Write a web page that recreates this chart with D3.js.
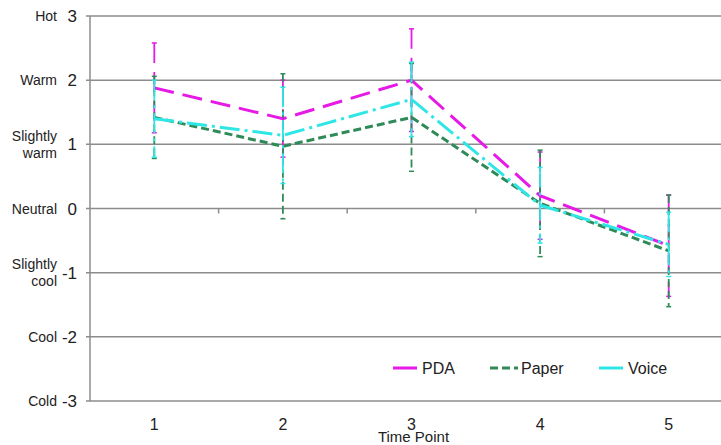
<!DOCTYPE html>
<html>
<head>
<meta charset="utf-8">
<script src="https://cdn.jsdelivr.net/npm/d3@7"></script>
<style>
  body { margin: 0; background: #fff; }
  svg { font-family: "Liberation Sans", Arial, sans-serif; }
</style>
</head>
<body>
<div id="chart"></div>
<script>
// time points and y tick labels
var timePoints = [1, 2, 3, 4, 5];
var yTicks = [3, 2, 1, 0, -1, -2, -3];
var yWords = [["Hot"], ["Warm"], ["Slightly", "warm"], ["Neutral"], ["Slightly", "cool"], ["Cool"], ["Cold"]];

// series means and error half-widths
var pdaMean = [1.88, 1.40, 2.00, 0.20, -0.58];
var pdaErr = [0.70, 0.60, 0.80, 0.68, 0.79];
var paperMean = [1.42, 0.97, 1.42, 0.08, -0.66];
var paperErr = [0.64, 1.13, 0.84, 0.83, 0.87];
var voiceMean = [1.40, 1.14, 1.70, 0.05, -0.56];
var voiceErr = [0.60, 0.75, 0.58, 0.59, 0.50];

var series = [
  {name: "PDA", mean: pdaMean, err: pdaErr, color: "#e619e6", dash: "20,9"},
  {name: "Paper", mean: paperMean, err: paperErr, color: "#2e8b57", dash: "8,4"},
  {name: "Voice", mean: voiceMean, err: voiceErr, color: "#2ee6e6", dash: "20,5,3,5"}
];

var width = 721, height = 445;
var margin = {top: 16, left: 90, bottom: 44};

var svg = d3.select("#chart").append("svg")
  .attr("width", width)
  .attr("height", height);

var x = d3.scaleBand()
  .domain(timePoints)
  .range([margin.left, 733]);

var y = d3.scaleLinear()
  .domain([-3, 3])
  .range([height - margin.bottom, margin.top]);

function cx(d) { return x(d) + x.bandwidth() / 2; }

// horizontal gridlines
svg.append("g")
  .selectAll("line")
  .data(yTicks)
  .enter().append("line")
  .attr("x1", margin.left - 4)
  .attr("x2", width)
  .attr("y1", function(d) { return y(d); })
  .attr("y2", function(d) { return y(d); })
  .attr("stroke", "#8c8c8c")
  .attr("stroke-width", 1.5);

// y axis line
svg.append("line")
  .attr("x1", margin.left).attr("x2", margin.left)
  .attr("y1", y(3)).attr("y2", y(-3))
  .attr("stroke", "#8c8c8c")
  .attr("stroke-width", 1.5);

// x tick marks at band edges on the zero line
svg.append("g")
  .selectAll("line")
  .data(timePoints)
  .enter().append("line")
  .attr("x1", function(d) { return x(d) + x.bandwidth(); })
  .attr("x2", function(d) { return x(d) + x.bandwidth(); })
  .attr("y1", y(0))
  .attr("y2", y(0) + 5)
  .attr("stroke", "#8c8c8c")
  .attr("stroke-width", 1.5);

// y numbers
svg.append("g")
  .selectAll("text")
  .data(yTicks)
  .enter().append("text")
  .attr("x", 77)
  .attr("y", function(d) { return y(d); })
  .attr("dy", "0.36em")
  .attr("text-anchor", "end")
  .attr("font-size", 17)
  .attr("fill", "#222")
  .text(function(d) { return d; });

// y words
var words = svg.append("g")
  .selectAll("text")
  .data(yTicks)
  .enter().append("text")
  .attr("x", 57)
  .attr("y", function(d, i) { return y(d) - (yWords[i].length - 1) * 8.5; })
  .attr("text-anchor", "end")
  .attr("font-size", 14)
  .attr("fill", "#222");

words.selectAll("tspan")
  .data(function(d, i) { return yWords[i]; })
  .enter().append("tspan")
  .attr("x", 57)
  .attr("dy", function(d, j) { return j === 0 ? "0.36em" : "1.2em"; })
  .text(function(d) { return d; });

// x labels
svg.append("g")
  .selectAll("text")
  .data(timePoints)
  .enter().append("text")
  .attr("x", cx)
  .attr("y", 430)
  .attr("text-anchor", "middle")
  .attr("font-size", 16)
  .attr("fill", "#222")
  .text(function(d) { return d; });

svg.append("text")
  .attr("x", cx(3) + 2)
  .attr("y", 442)
  .attr("text-anchor", "middle")
  .attr("font-size", 15)
  .attr("fill", "#222")
  .text("Time Point");

var line = d3.line()
  .x(function(d) { return cx(d.t); })
  .y(function(d) { return y(d.v); });

// error bars then lines
series.forEach(function(s) {
  var pts = timePoints.map(function(t, i) { return {t: t, v: s.mean[i], e: s.err[i]}; });
  var g = svg.append("g");

  g.selectAll("line.err")
    .data(pts)
    .enter().append("line")
    .attr("class", "err")
    .attr("x1", function(d) { return cx(d.t); })
    .attr("x2", function(d) { return cx(d.t); })
    .attr("y1", function(d) { return y(d.v + d.e); })
    .attr("y2", function(d) { return y(d.v - d.e); })
    .attr("stroke", s.color)
    .attr("stroke-width", 1.8)
    .attr("stroke-dasharray", s.dash);

  [1, -1].forEach(function(sign) {
    g.selectAll("line.cap" + sign)
      .data(pts)
      .enter().append("line")
      .attr("x1", function(d) { return cx(d.t) - 2.5; })
      .attr("x2", function(d) { return cx(d.t) + 2.5; })
      .attr("y1", function(d) { return y(d.v + sign * d.e); })
      .attr("y2", function(d) { return y(d.v + sign * d.e); })
      .attr("stroke", s.color)
      .attr("stroke-width", 1.5);
  });

  g.append("path")
    .datum(pts)
    .attr("d", line)
    .attr("fill", "none")
    .attr("stroke", s.color)
    .attr("stroke-width", 3)
    .attr("stroke-dasharray", s.dash);
});

// legend
var legendX = [393, 490, 599];
var legend = svg.selectAll(".legend")
  .data(series)
  .enter().append("g")
  .attr("class", "legend")
  .attr("transform", function(d, i) { return "translate(" + legendX[i] + ",368)"; });

legend.append("line")
  .attr("x1", 0)
  .attr("x2", function(d, i) { return i === 1 ? 28 : 24; })
  .attr("stroke", function(d) { return d.color; })
  .attr("stroke-width", 3)
  .attr("stroke-dasharray", function(d, i) { return i === 1 ? "8,4" : null; });

legend.append("text")
  .attr("x", function(d, i) { return i === 1 ? 31 : 29; })
  .attr("dy", "0.36em")
  .attr("font-size", 16)
  .attr("fill", "#222")
  .text(function(d) { return d.name; });
</script>
</body>
</html>
